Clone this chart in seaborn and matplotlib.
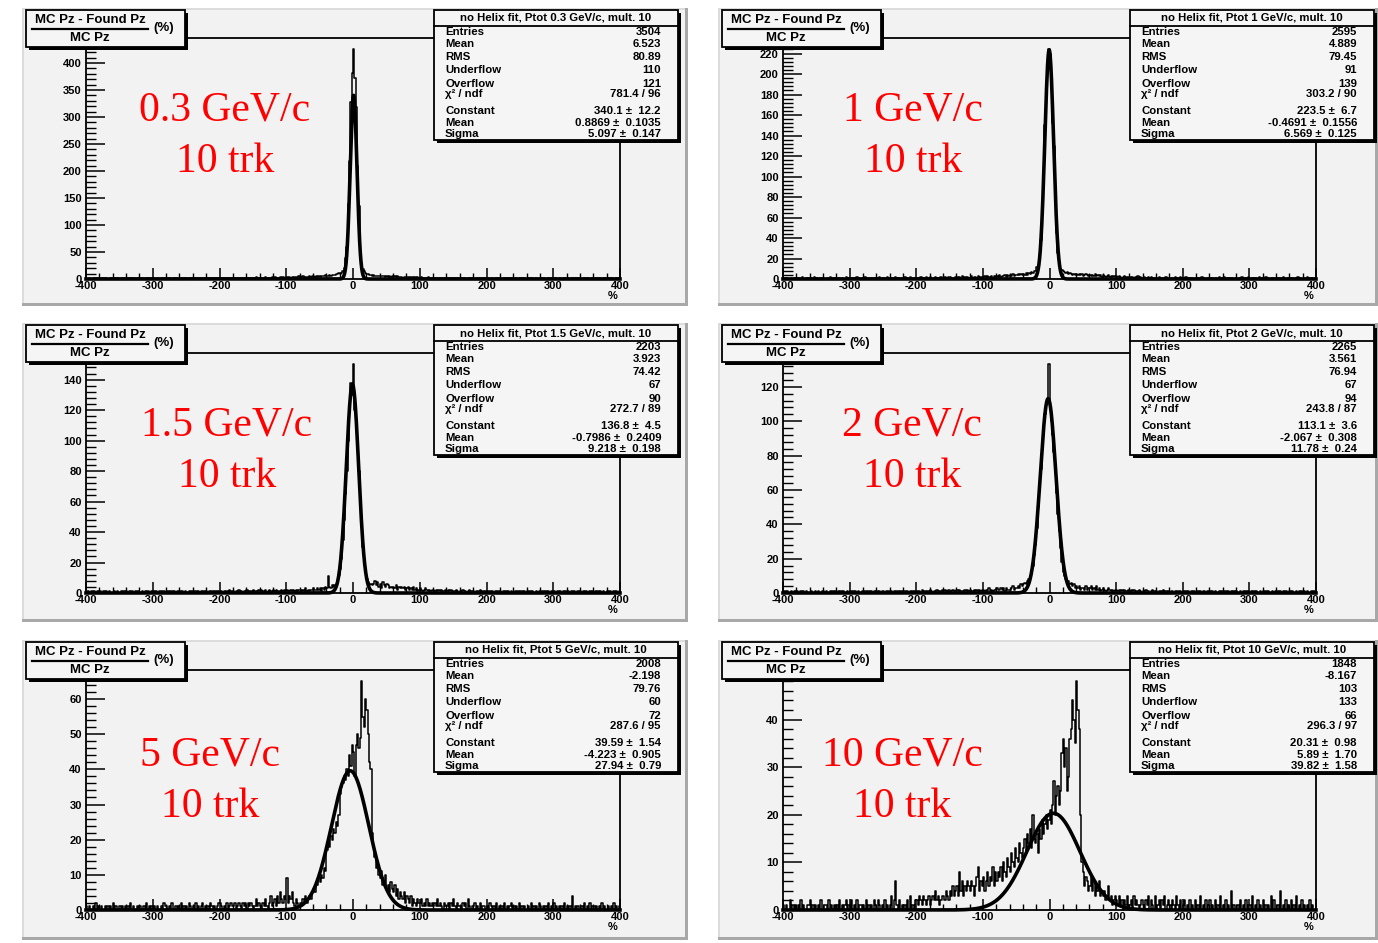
import numpy as np
import pandas as pd
import matplotlib
matplotlib.use("Agg")
import matplotlib.pyplot as plt
import seaborn as sns
from matplotlib.patches import Rectangle
from matplotlib.lines import Line2D
from matplotlib.ticker import MultipleLocator

# ----------------------------------------------------------------------------
# Histogram contents: 2 %-wide bins over [-400, 400].
# Tails are written as base-36 digit strings (one character per bin),
# the central region as explicit counts starting at CORE_LO.
# ----------------------------------------------------------------------------
BIN_WIDTH = 2
X_LO, X_HI = -400, 400
X_MAJOR = [-400, -300, -200, -100, 0, 100, 200, 300, 400]

MOMENTA = ["0.3", "1", "1.5", "2", "5", "10"]

# --- Ptot 0.3 GeV/c ---
P1_LEFT = ["1010020101", "0102010011", "2010101020", "0110201010", "1020101201",
           "0101102010", "1201010210", "0102110102", "1011020121", "2101210102",
           "1210211012", "0212101221", "2112021312", "1221312213", "2312231422",
           "3241323425", "4352434536", "5463545657", "6576878a9c"]
P1_CORE_LO = -20
P1_CORE = [10, 12, 14, 20, 38, 60, 139, 219, 327, 381,
           425, 372, 318, 210, 135, 40, 30, 18, 14, 12]
P1_RIGHT = ["a978676565", "6565454546", "4535434243", "3424323132", "2312213121",
            "1211201120", "1021101201", "0110201011", "1020110102", "0101201010",
            "2010110201", "0110102010", "1020101102", "0101020110", "1010210101",
            "0201011020", "1010102011", "0102010101", "1010201010"]
P1_STATS = [3504, 6.523, 80.89, 110, 121]
P1_CHI2 = (781.4, 96)
P1_FIT = (340.1, 0.8869, 5.097)
P1_FIT_ERR = ("12.2", "0.1035", "0.147")

# --- Ptot 1 GeV/c ---
P2_LEFT = ["0101001010", "1010200101", "0102010010", "1001020101", "0110100201",
           "1010120101", "0201010110", "1020101021", "0110210101", "1201021011",
           "1102101201", "2101210120", "1210221012", "2121312021", "1312213221",
           "2313223132", "3242334243", "4353445454", "5464657688"]
P2_CORE_LO = -20
P2_CORE = [12, 14, 22, 38, 75, 105, 150, 178, 205, 224,
           220, 200, 152, 130, 75, 45, 25, 14, 10, 9]
P2_RIGHT = ["8767565454", "5454534543", "4343534342", "4323423232", "3232123212",
            "2121213121", "1210212011", "1021101210", "0110201021", "1020110101",
            "0101201010", "1010110201", "0201010101", "1010201102", "0101010201",
            "1020101010", "0101021011", "1010102010", "0102010101"]
P2_STATS = [2595, 4.889, 79.45, 91, 139]
P2_CHI2 = (303.2, 90)
P2_FIT = (223.5, -0.4691, 6.569)
P2_FIT_ERR = ("6.7", "0.1556", "0.125")

# --- Ptot 1.5 GeV/c ---
P3_LEFT = ["0100101010", "1001010100", "0101001010", "1010100101", "0010101001",
           "1010010110", "0101101010", "1010100101", "0110101010", "1010110101",
           "1101010210", "1010201011", "2101021012", "1210201210", "2121102121",
           "2112121212", "2121312122", "3223231324"]
P3_CORE_LO = -40
P3_CORE = [3, 11, 4, 3, 5, 4, 5, 6, 8, 12,
           16, 22, 35, 48, 65, 80, 100, 118, 138, 130,
           150, 120, 110, 95, 80, 62, 44, 30, 20, 14,
           9, 7, 5, 6, 5, 6, 8, 5, 7, 4]
P3_RIGHT = ["6375465343", "4352434342", "3423242312", "3212321212", "2121212112",
            "1212011210", "1021101210", "1010120101", "0110101010", "1010101010",
            "0101011010", "1010100101", "0110101010", "1001010101", "0101010010",
            "1010100101", "0101010100", "1010010101"]
P3_STATS = [2203, 3.923, 74.42, 67, 90]
P3_CHI2 = (272.7, 89)
P3_FIT = (136.8, -0.7986, 9.218)
P3_FIT_ERR = ("4.5", "0.2409", "0.198")

# --- Ptot 2 GeV/c ---
P4_LEFT = ["0101001010", "1001010100", "0100101001", "1010010101", "0101010010",
           "1010101001", "0110101010", "1010110101", "0101011010", "1101010101",
           "1010201011", "2101021012", "1210201210", "2121102121", "2112121212",
           "2121312122", "3223231322"]
P4_CORE_LO = -60
P4_CORE = [2, 3, 4, 2, 3,
           3, 4, 3, 5, 4, 5, 6, 5, 7, 8, 9, 12, 16, 22, 28,
           38, 50, 60, 72, 84, 95, 104, 110, 113, 133,
           108, 100, 92, 82, 70, 58, 46, 36, 26, 18,
           12, 10, 8, 6, 7, 5, 6, 4, 5, 3, 4, 3, 4, 2, 3,
           3, 2, 4, 2, 3]
P4_RIGHT = ["3423242312", "3212321212", "2121212112", "1212011210", "1021101210",
            "1010120101", "0110101010", "1010101010", "0101011010", "1010100101",
            "0110101010", "1001010101", "0101010010", "1010100101", "0101010100",
            "1010010101", "0101001010"]
P4_STATS = [2265, 3.561, 76.94, 67, 94]
P4_CHI2 = (243.8, 87)
P4_FIT = (113.1, -2.067, 11.78)
P4_FIT_ERR = ("3.6", "0.308", "0.24")

# --- Ptot 5 GeV/c ---
P5_LEFT = ["1010010201", "0100101010", "2010010101", "0102010010", "1001020101",
           "0101001021", "1010200101", "0201010210", "1020101201", "0102101012",
           "2101020121", "1201210212", "0212101312"]
P5_CORE_LO = -140
P5_CORE = [1, 0, 2, 1, 3, 1, 0, 2, 4, 1,
           2, 3, 1, 4, 2, 5, 3, 2, 4, 3,
           9, 2, 4, 3, 5, 2, 1, 3, 2, 1,
           2, 1, 3, 2, 4, 2, 3, 4, 3, 5,
           6, 5, 8, 7, 9, 8, 10, 9, 12, 11,
           17, 19, 18, 21, 20, 23, 22, 25, 24, 27,
           33, 35, 36, 38, 37, 40, 38, 44, 41, 47,
           45, 38, 47, 50, 46, 49, 65, 55, 52, 60,
           57, 50, 42, 40, 22, 18, 15, 12, 14, 10,
           9, 11, 7, 8, 10, 6, 7, 5, 8, 6,
           5, 7, 4, 6, 3, 5, 4, 3, 5, 2,
           4, 3, 2, 4, 1, 3, 2, 1, 3, 2]
P5_RIGHT = ["2312131212", "1213121021", "1202131021", "1021203101", "1201020110",
            "1021010201", "0102010120", "1010201010", "0102010102", "1010102010",
            "2010101020", "1010401010", "0102010201", "1010102010", "0101020101"]
P5_STATS = [2008, -2.198, 79.76, 60, 72]
P5_CHI2 = (287.6, 95)
P5_FIT = (39.59, -4.223, 27.94)
P5_FIT_ERR = ("1.54", "0.905", "0.79")

# --- Ptot 10 GeV/c ---
P6_LEFT = ["1010020101", "0102010011", "2010101020", "0110201010", "1020101201",
           "0201020110", "1020101021", "0210102010", "1302610201", "0102030102"]
P6_CORE_LO = -200
P6_CORE = [2, 1, 3, 2, 1, 3, 2, 1, 2, 3,
           1, 2, 3, 2, 4, 2, 3, 1, 2, 3,
           3, 2, 4, 3, 2, 4, 3, 5, 3, 4,
           5, 3, 8, 4, 6, 3, 5, 4, 6, 5,
           4, 6, 5, 3, 5, 7, 9, 4, 6, 5,
           7, 4, 6, 8, 5, 7, 6, 9, 5, 8,
           6, 8, 7, 9, 6, 10, 8, 7, 11, 9,
           8, 12, 10, 9, 13, 11, 10, 14, 12, 11,
           13, 15, 12, 16, 14, 17, 13, 20, 15, 14,
           16, 12, 17, 15, 19, 16, 18, 20, 17, 19,
           21, 18, 22, 27, 20, 24, 26, 22, 25, 33,
           36, 30, 34, 25, 28, 36, 38, 44, 40, 35,
           48, 42, 38, 20, 10, 8, 5, 7, 6, 4,
           5, 7, 4, 6, 3, 5, 4, 6, 3, 4,
           3, 4, 2, 3, 5, 2, 3, 1, 2, 3]
P6_RIGHT = ["2131202130", "1203121012", "1021302103", "0120213012", "1021031020",
            "1201020102", "0103010201", "2010201030", "1020104010", "0102010201",
            "1030102010", "2010103020", "0104010201", "0201030102", "0101020100"]
P6_STATS = [1848, -8.167, 103, 133, 66]
P6_CHI2 = (296.3, 97)
P6_FIT = (20.31, 5.89, 39.82)
P6_FIT_ERR = ("0.98", "1.70", "1.58")

# y-axis divisions per panel (major, minor)
Y_DIV = [(50, 10), (20, 4), (20, 4), (20, 4), (10, 2), (10, 2)]

# ----------------------------------------------------------------------------
# Layout (pixels)
# ----------------------------------------------------------------------------
W, H = 1378, 943
PAD_COLS = [(22, 688), (718, 1378)]
PAD_ROWS = [(8, 306), (323, 622), (640, 940)]
FRAME_COLS = [(86, 620), (783, 1316)]
FRAME_ROWS = [(38, 279), (353, 593), (670, 910)]
RED_LABEL_XY = [(225, 108), (913, 108), (227, 423), (912, 423), (210, 753), (902, 753)]

PAD_COLOR = "#f2f2f2"
BOX_COLOR = "#f5f5f5"
SANS = "Liberation Sans"
SERIF = "Liberation Serif"

plt.rcParams["axes.unicode_minus"] = False
plt.rcParams["font.family"] = [SANS, "DejaVu Sans"]

fig = plt.figure(figsize=(W / 100, H / 100), dpi=100)
fig.patch.set_facecolor("white")


def fx(x):
    return x / W


def fy(y):
    return 1 - y / H


def rect(x0, y0, x1, y1, **kw):
    fig.add_artist(Rectangle((fx(x0), fy(y1)), fx(x1) - fx(x0), fy(y0) - fy(y1),
                             transform=fig.transFigure, **kw))


def hline(x0, x1, y, lw=1.0, z=6):
    fig.add_artist(Line2D([fx(x0), fx(x1)], [fy(y), fy(y)], transform=fig.transFigure,
                          color="black", lw=lw, zorder=z))


def text(x, y, s, **kw):
    kw.setdefault("va", "center")
    kw.setdefault("zorder", 7)
    fig.text(fx(x), fy(y), s, **kw)


def build_counts(left, core, core_lo, right):
    lt = [int(c, 36) for c in "".join(left)]
    rt = [int(c, 36) for c in "".join(right)]
    counts = np.array(lt + list(core) + rt, dtype=float)
    start = core_lo - BIN_WIDTH * len(lt)
    centers = start + BIN_WIDTH * (np.arange(len(counts)) + 0.5)
    stop = start + BIN_WIDTH * len(counts)
    return pd.DataFrame({"dpz": centers, "n": counts}), (float(start), float(stop))


panels = [
    (P1_LEFT, P1_CORE, P1_CORE_LO, P1_RIGHT, P1_STATS, P1_CHI2, P1_FIT, P1_FIT_ERR),
    (P2_LEFT, P2_CORE, P2_CORE_LO, P2_RIGHT, P2_STATS, P2_CHI2, P2_FIT, P2_FIT_ERR),
    (P3_LEFT, P3_CORE, P3_CORE_LO, P3_RIGHT, P3_STATS, P3_CHI2, P3_FIT, P3_FIT_ERR),
    (P4_LEFT, P4_CORE, P4_CORE_LO, P4_RIGHT, P4_STATS, P4_CHI2, P4_FIT, P4_FIT_ERR),
    (P5_LEFT, P5_CORE, P5_CORE_LO, P5_RIGHT, P5_STATS, P5_CHI2, P5_FIT, P5_FIT_ERR),
    (P6_LEFT, P6_CORE, P6_CORE_LO, P6_RIGHT, P6_STATS, P6_CHI2, P6_FIT, P6_FIT_ERR),
]

STAT_NAMES = ["Entries", "Mean", "RMS", "Underflow", "Overflow", "χ² / ndf",
              "Constant", "Mean", "Sigma"]
STAT_DY = [22, 34, 47, 60, 74, 84, 101, 113, 124]

for i, (left, core, core_lo, right, stats, chi2, fit, fit_err) in enumerate(panels):
    row, col = divmod(i, 2)
    px0, px1 = PAD_COLS[col]
    py0, py1 = PAD_ROWS[row]
    ax0, ax1 = FRAME_COLS[col]
    ay0, ay1 = FRAME_ROWS[row]

    # pad with bevelled border
    rect(px0, py0, px1, py1, facecolor=PAD_COLOR, edgecolor="none", zorder=-3)
    rect(px0, py0, px1, py0 + 1.5, facecolor="#dcdcdc", edgecolor="none", zorder=-2)
    rect(px0, py0, px0 + 1.5, py1, facecolor="#dcdcdc", edgecolor="none", zorder=-2)
    rect(px0, py1 - 3, px1, py1, facecolor="#a8a8a8", edgecolor="none", zorder=-2)
    rect(px1 - 3, py0, px1, py1, facecolor="#a8a8a8", edgecolor="none", zorder=-2)

    ax = fig.add_axes([fx(ax0), fy(ay1), fx(ax1) - fx(ax0), fy(ay0) - fy(ay1)])
    ax.set_facecolor("none")

    hist_df, brange = build_counts(left, core, core_lo, right)
    sns.histplot(data=hist_df, x="dpz", weights="n", binwidth=BIN_WIDTH, binrange=brange,
                 element="step", fill=False, color="black", linewidth=1.1, ax=ax)

    const, mean, sigma = fit
    xs = np.linspace(X_LO, X_HI, 1601)
    fit_df = pd.DataFrame({"dpz": xs,
                           "g": const * np.exp(-0.5 * ((xs - mean) / sigma) ** 2)})
    sns.lineplot(data=fit_df, x="dpz", y="g", color="black", linewidth=2.6,
                 estimator=None, sort=False, ax=ax)
    ax.lines[-1].set_clip_on(False)

    ymax = 1.05 * hist_df["n"].max()
    ax.set_xlim(X_LO, X_HI)
    ax.set_ylim(0, ymax)
    ax.set_xlabel("")
    ax.set_ylabel("")

    ymaj, ymin = Y_DIV[i]
    yt = [v for v in range(0, int(ymax) + 1, ymaj) if v <= 0.96 * ymax]
    ax.set_xticks(X_MAJOR, labels=[str(v) for v in X_MAJOR], fontsize=8, fontweight="bold")
    ax.set_yticks(yt, labels=[str(v) for v in yt], fontsize=8, fontweight="bold")
    ax.xaxis.set_minor_locator(MultipleLocator(20))
    ax.yaxis.set_minor_locator(MultipleLocator(ymin))
    ax.tick_params(axis="x", which="major", direction="in", length=8, width=1.1, pad=1.5)
    ax.tick_params(axis="x", which="minor", direction="in", length=4, width=1.0)
    ax.tick_params(axis="y", which="major", direction="in", length=14, width=1.1, pad=3)
    ax.tick_params(axis="y", which="minor", direction="in", length=7, width=1.0)
    for s in ax.spines.values():
        s.set_linewidth(1.3)
        s.set_color("black")

    text(ax1 - 7, ay1 + 17, "%", fontsize=8, fontweight="bold", ha="center")

    # momentum / multiplicity annotation
    lx, ly = RED_LABEL_XY[i]
    text(lx, ly + 2, f"{MOMENTA[i]} GeV/c", fontsize=30, color="red", ha="center",
         family=SERIF)
    text(lx, ly + 54, "10 trk", fontsize=30, color="red", ha="center", family=SERIF)

    # axis title box
    tx0, tx1 = px0 + 4, px0 + 163
    ty0, ty1 = py0 + 2, py0 + 39
    rect(tx0 + 3, ty0 + 3, tx1 + 3, ty1 + 3, facecolor="black", edgecolor="none", zorder=4)
    rect(tx0, ty0, tx1, ty1, facecolor=BOX_COLOR, edgecolor="black", linewidth=1.3, zorder=5)
    text(px0 + 68, py0 + 12, "MC Pz - Found Pz", fontsize=9.5, fontweight="bold", ha="center")
    hline(px0 + 10, px0 + 126, py0 + 21, lw=1.6)
    text(px0 + 68, py0 + 30, "MC Pz", fontsize=9.5, fontweight="bold", ha="center")
    text(px0 + 142, py0 + 20, "(%)", fontsize=9.5, fontweight="bold", ha="center")

    # statistics box
    sx0, sx1 = ax1 - 186, ax1 + 58
    sy0, sy1 = py0 + 2, py0 + 132
    rect(sx0 + 3, sy0 + 3, sx1 + 3, sy1 + 3, facecolor="black", edgecolor="none", zorder=4)
    rect(sx0, sy0, sx1, sy1, facecolor=BOX_COLOR, edgecolor="black", linewidth=1.3, zorder=5)
    hline(sx0, sx1, sy0 + 16, lw=1.3)
    text(0.5 * (sx0 + sx1), sy0 + 8, f"no Helix fit, Ptot {MOMENTA[i]} GeV/c, mult. 10",
         fontsize=8.2, fontweight="bold", ha="center")
    values = [str(v) for v in stats]
    values.append(f"{chi2[0]} / {chi2[1]}")
    values += [f"{v} ±  {e}" for v, e in zip(fit, fit_err)]
    for name, val, dy in zip(STAT_NAMES, values, STAT_DY):
        text(sx0 + 11, sy0 + dy, name, fontsize=8.2, fontweight="bold", ha="left")
        text(sx1 - 17, sy0 + dy, val, fontsize=8.2, fontweight="bold", ha="right")

fig.savefig("out.png", dpi=100)
